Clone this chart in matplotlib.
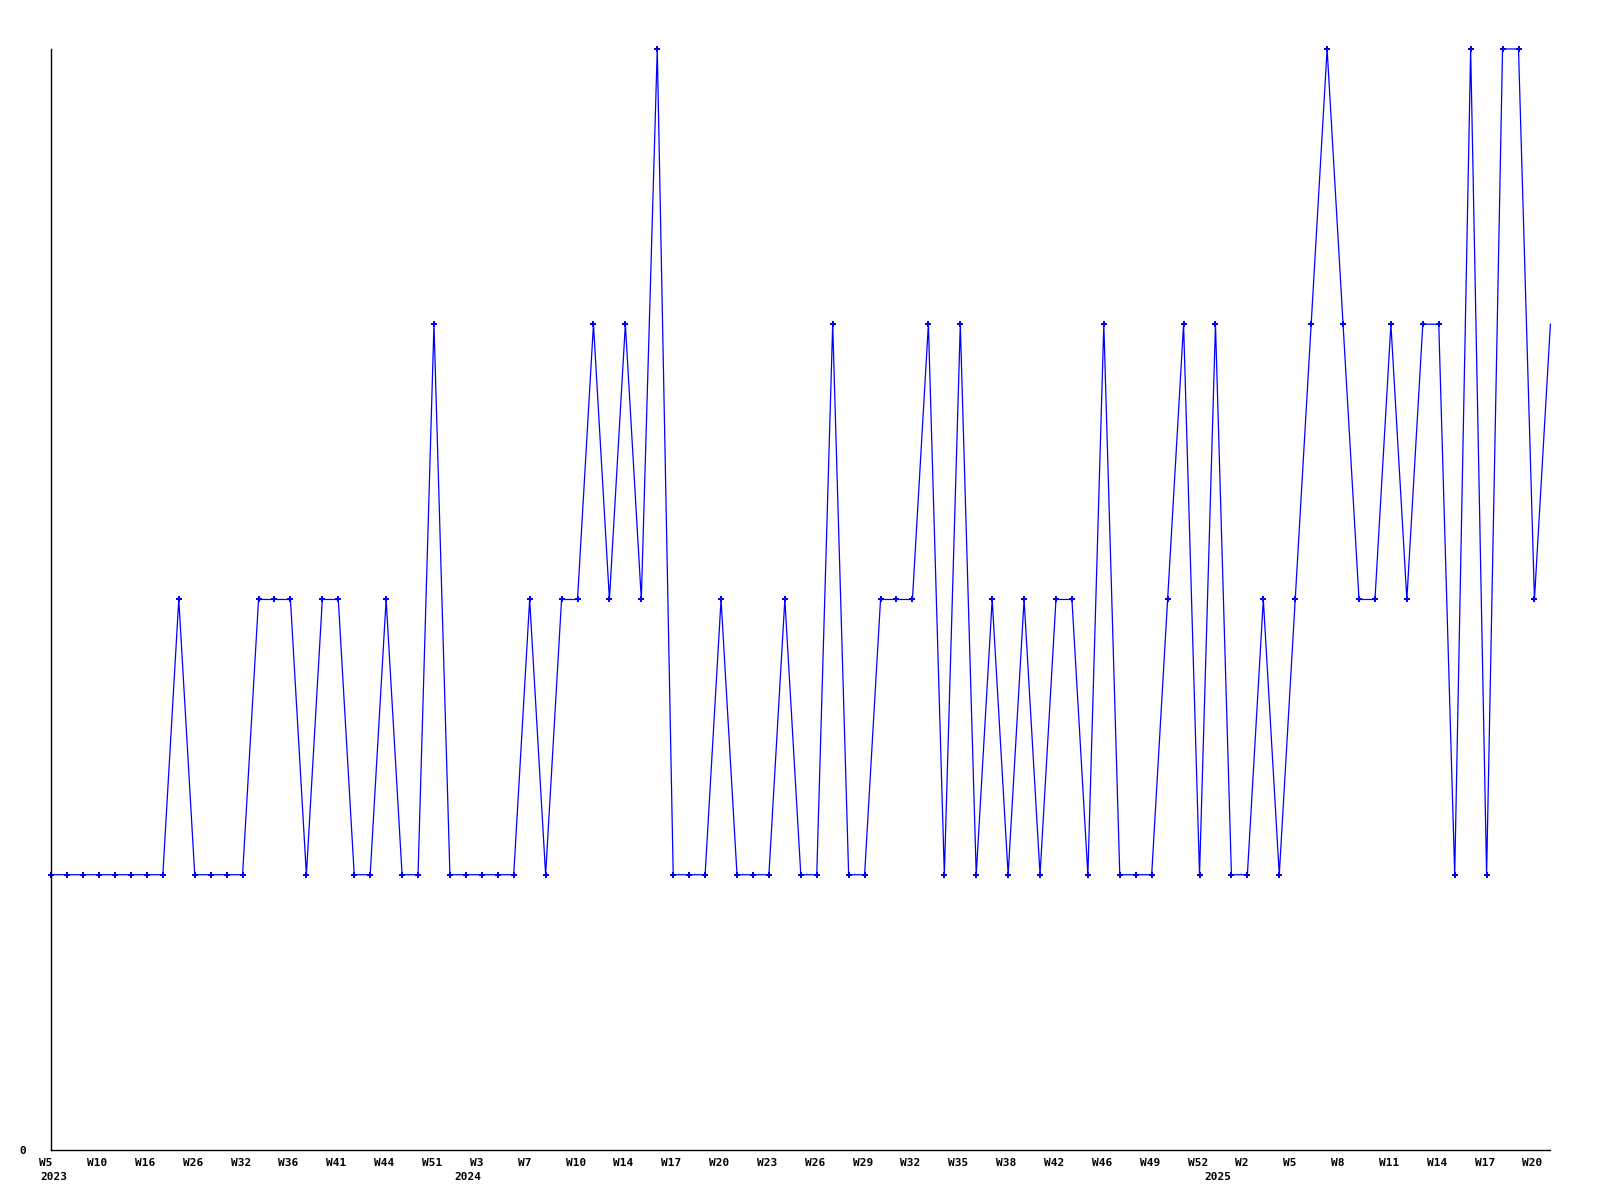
"""
Weekly count chart, 2023-2025
"""
import matplotlib
matplotlib.use('Agg')
import matplotlib.pyplot as plt
import matplotlib.transforms as mtransforms

# values for each week with data (in order)
values = [1, 1, 1, 1, 1, 1, 1, 1, 2, 1,
          1, 1, 1, 2, 2, 2, 1, 2, 2, 1,
          1, 2, 1, 1, 3, 1, 1, 1, 1, 1,
          2, 1, 2, 2, 3, 2, 3, 2, 4, 1,
          1, 1, 2, 1, 1, 1, 2, 1, 1, 3,
          1, 1, 2, 2, 2, 3, 1, 3, 1, 2,
          1, 2, 1, 2, 2, 1, 3, 1, 1, 1,
          2, 3, 1, 3, 1, 1, 2, 1, 2, 3,
          4, 3, 2, 2, 3, 2, 3, 3, 1, 4,
          1, 4, 4, 2, 3]

# every third week is labelled
tick_labels = ['W5', 'W10', 'W16', 'W26', 'W32', 'W36', 'W41', 'W44',
               'W51', 'W3', 'W7', 'W10', 'W14', 'W17', 'W20', 'W23',
               'W26', 'W29', 'W32', 'W35', 'W38', 'W42', 'W46', 'W49', 'W52',
               'W2', 'W5', 'W8', 'W11', 'W14', 'W17', 'W20']
tick_step = 3

# year labels, placed by the week index their text ends at
years = ['2023', '2024', '2025']
year_pos = [1, 27, 74]

x = list(range(len(values)))

fig = plt.figure(figsize=(16, 12), dpi=100)
ax = fig.add_axes([0.032, 0.0417, 0.937, 0.9175])

# last point sits on the right edge without a marker
ax.plot(x, values, color='#0000ff', linewidth=0.9,
        marker='P', markersize=4.5, markeredgewidth=0,
        markevery=list(range(len(values) - 1)), clip_on=False)

ax.set_xlim(0, len(values) - 1)
ax.set_ylim(0, 4)

ax.spines['top'].set_visible(False)
ax.spines['right'].set_visible(False)
for s in ('left', 'bottom'):
    ax.spines[s].set_linewidth(1.0)
    ax.spines[s].set_color('black')

font = dict(family='DejaVu Sans Mono', weight='bold', size=8)

ax.set_yticks([0])
ax.set_yticklabels(['0'], **font)
ax.tick_params(axis='y', length=0, pad=18)

ticks = x[::tick_step][:len(tick_labels)]
ax.set_xticks(ticks)
ax.set_xticklabels(tick_labels, ha='left', **font)
ax.tick_params(axis='x', length=0, pad=6)

# labels start a little left of their point
offset = mtransforms.ScaledTranslation(-12 / 100, 0, fig.dpi_scale_trans)
for lbl in ax.get_xticklabels():
    lbl.set_transform(lbl.get_transform() + offset)

for yr, pos in zip(years, year_pos):
    ax.annotate(yr, xy=(pos, 0), xycoords=('data', 'axes fraction'),
                xytext=(0, -19.5), textcoords='offset points',
                ha='right', va='center', **font)

fig.savefig('out.png', dpi=100, facecolor='white')
plt.close(fig)
